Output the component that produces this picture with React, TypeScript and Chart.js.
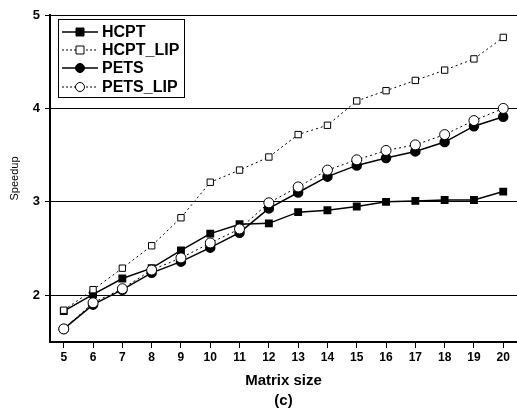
import React, { useEffect, useRef } from "react";
import { Chart, registerables } from "chart.js";

Chart.register(...registerables);

const matrixSizes = [5, 6, 7, 8, 9, 10, 11, 12, 13, 14, 15, 16, 17, 18, 19, 20];
const hcpt = [1.83, 2.01, 2.18, 2.29, 2.48, 2.66, 2.76, 2.77, 2.89, 2.91, 2.95, 3.0, 3.01, 3.02, 3.02, 3.11];
const hcptLip = [1.84, 2.06, 2.29, 2.53, 2.83, 3.21, 3.34, 3.48, 3.72, 3.82, 4.08, 4.19, 4.3, 4.41, 4.53, 4.76];
const pets = [1.64, 1.9, 2.06, 2.24, 2.36, 2.51, 2.67, 2.93, 3.1, 3.27, 3.39, 3.47, 3.54, 3.64, 3.81, 3.91];
const petsLip = [1.64, 1.92, 2.07, 2.27, 2.4, 2.56, 2.71, 2.99, 3.16, 3.34, 3.45, 3.55, 3.61, 3.72, 3.87, 4.0];
const yTicks = [2, 3, 4, 5];

const FONT = "'Liberation Sans', Arial, sans-serif";

type LegendItem = { label: string; dash: number[]; style: string; fill: string; width: number };
const legendItems: LegendItem[] = [
  { label: "HCPT", dash: [], style: "rect", fill: "#000", width: 1.5 },
  { label: "HCPT_LIP", dash: [2, 2], style: "rect", fill: "#fff", width: 1 },
  { label: "PETS", dash: [], style: "circle", fill: "#000", width: 1.5 },
  { label: "PETS_LIP", dash: [2, 2], style: "circle", fill: "#fff", width: 1 },
];

const legendPlugin = {
  id: "insideLegend",
  afterDatasetsDraw(chart: any) {
    const ctx = chart.ctx as CanvasRenderingContext2D;
    const x0 = 58, y0 = 19, w = 126, h = 78;
    ctx.save();
    ctx.fillStyle = "#fff";
    ctx.fillRect(x0, y0, w, h);
    ctx.strokeStyle = "#000";
    ctx.lineWidth = 1;
    ctx.setLineDash([]);
    ctx.strokeRect(x0 + 0.5, y0 + 0.5, w, h);
    const rows = [32, 50, 68, 87];
    legendItems.forEach((it, i) => {
      const y = rows[i];
      ctx.beginPath();
      ctx.setLineDash(it.dash);
      ctx.lineWidth = it.width;
      ctx.moveTo(62, y);
      ctx.lineTo(98, y);
      ctx.stroke();
      ctx.setLineDash([]);
      ctx.lineWidth = 1;
      ctx.fillStyle = it.fill;
      ctx.beginPath();
      if (it.style === "rect") {
        ctx.rect(76, y - 4, 8, 8);
      } else {
        ctx.arc(80, y, 4.5, 0, Math.PI * 2);
      }
      ctx.fill();
      ctx.stroke();
      ctx.fillStyle = "#000";
      ctx.font = `bold 16px ${FONT}`;
      ctx.textBaseline = "middle";
      ctx.textAlign = "left";
      ctx.fillText(it.label, 102, y + 1);
    });
    ctx.restore();
  },
};

export default function App() {
  const ref = useRef<HTMLCanvasElement | null>(null);
  useEffect(() => {
    document.body.style.margin = "0";
    const mk = (arr: number[]) => matrixSizes.map((x, i) => ({ x, y: arr[i] }));
    const chart = new Chart(ref.current as HTMLCanvasElement, {
      type: "line",
      data: {
        datasets: [
          {
            label: "HCPT_LIP", data: mk(hcptLip), borderColor: "#000", borderWidth: 1, borderDash: [2, 3],
            pointStyle: "rect", pointRadius: 4.5, pointBackgroundColor: "#fff", pointBorderColor: "#000", pointBorderWidth: 1, order: 0,
          },
          {
            label: "PETS_LIP", data: mk(petsLip), borderColor: "#000", borderWidth: 1, borderDash: [2, 3],
            pointStyle: "circle", pointRadius: 5, pointBackgroundColor: "#fff", pointBorderColor: "#000", pointBorderWidth: 1, order: 0,
          },
          {
            label: "HCPT", data: mk(hcpt), borderColor: "#000", borderWidth: 1.5,
            pointStyle: "rect", pointRadius: 4.5, pointBackgroundColor: "#000", pointBorderColor: "#000", order: 1,
          },
          {
            label: "PETS", data: mk(pets), borderColor: "#000", borderWidth: 1.5,
            pointStyle: "circle", pointRadius: 4.5, pointBackgroundColor: "#000", pointBorderColor: "#000", order: 1,
          },
        ],
      },
      options: {
        responsive: false,
        animation: false,
        layout: { autoPadding: false, padding: { top: 15, right: 0, left: 0, bottom: 0 } },
        plugins: { legend: { display: false }, tooltip: { enabled: false } },
        scales: {
          x: {
            type: "linear",
            min: 4.53,
            max: 20.47,
            afterBuildTicks: (s: any) => { s.ticks = matrixSizes.map((v) => ({ value: v })); },
            afterFit: (s: any) => { s.height = 70; s.paddingLeft = 0; s.paddingRight = 0; },
            ticks: { color: "#000", font: { family: FONT, size: 12, weight: "bold" }, padding: 2, maxRotation: 0, autoSkip: false },
            grid: { drawOnChartArea: false, drawTicks: true, tickLength: 6, color: "#000" },
            border: { color: "#000", width: 2 },
            title: {
              display: true, text: ["Matrix size", "(c)"], color: "#000",
              font: { family: FONT, size: 15, weight: "bold", lineHeight: 1.33 }, padding: { top: 0, bottom: 1 },
            },
          },
          y: {
            min: 1.5,
            max: 5,
            afterBuildTicks: (s: any) => { s.ticks = yTicks.map((v) => ({ value: v })); },
            afterFit: (s: any) => { s.width = 50; s.paddingTop = 0; s.paddingBottom = 0; },
            ticks: { color: "#000", font: { family: FONT, size: 13, weight: "bold" }, padding: 5 },
            grid: { color: "#000", lineWidth: 1, tickLength: 5 },
            border: { color: "#000", width: 2 },
            title: {
              display: true, text: "Speedup", color: "#000",
              font: { family: FONT, size: 11, weight: "normal" }, padding: { top: 8, bottom: 0 },
            },
          },
        },
      },
      plugins: [legendPlugin],
    } as any);
    return () => chart.destroy();
  }, []);
  return <canvas ref={ref} width={517} height={412} style={{ display: "block" }} />;
}
